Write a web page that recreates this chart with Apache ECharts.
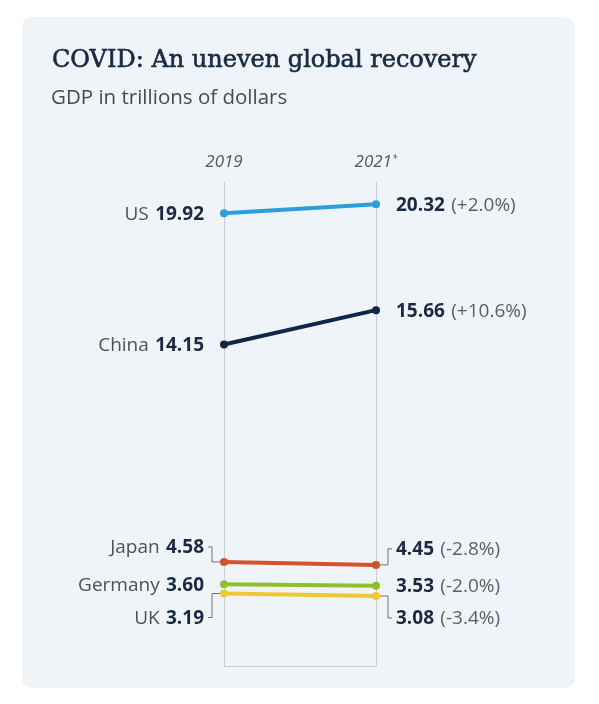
<!DOCTYPE html>
<html>
<head>
<meta charset="utf-8">
<script src="https://cdn.jsdelivr.net/npm/echarts@6/dist/echarts.min.js"></script>
<style>
  html, body { margin: 0; padding: 0; background: #ffffff; }
  #card {
    position: absolute; left: 22px; top: 17px; width: 553px; height: 671px;
    border-radius: 10px; background: #eef4f7;
  }
  #chart { position: absolute; left: 0; top: 0; width: 599px; height: 704px; }
</style>
</head>
<body>
<div id="card"></div>
<div id="chart"></div>
<script>
// GDP in trillions of dollars
const years = ['2019', '2021'];
const countries = ['US', 'China', 'Japan', 'Germany', 'UK'];
const gdp2019 = [19.92, 14.15, 4.58, 3.60, 3.19];
const gdp2021 = [20.32, 15.66, 4.45, 3.53, 3.08];
const changePct = ['+2.0', '+10.6', '-2.8', '-2.0', '-3.4'];

const colors = {
    US: '#2b9fd9',
    China: '#0e2747',
    Japan: '#d5512c',
    Germany: '#8fc02c',
    UK: '#efc932'
};

// vertical shift of labels that sit off their point (left, right), in px
const labelShift = {
    Japan: [-15, -16],
    UK: [24, 22]
};

const FONT = '"Open Sans", sans-serif';
const rich = {
    n: { fontFamily: FONT, fontSize: 19, color: '#4d5258', padding: [0, 3, 0, 0] },
    b: { fontFamily: FONT, fontSize: 19, fontWeight: 'bold', color: '#1b2a44' },
    bp: { fontFamily: FONT, fontSize: 19, fontWeight: 'bold', color: '#1b2a44', padding: [0, 3, 0, 0] },
    p: { fontFamily: FONT, fontSize: 19, color: '#5a5f66' }
};

const lineSeries = countries.map((c, i) => {
    const shift = labelShift[c] || [0, 0];
    return {
        name: c,
        type: 'line',
        xAxisIndex: 0,
        symbol: 'circle',
        symbolSize: 8,
        lineStyle: { width: 4, color: colors[c] },
        itemStyle: { color: colors[c] },
        z: 3,
        data: [
            {
                value: gdp2019[i],
                label: {
                    show: true, position: 'left', distance: 16,
                    offset: [0, shift[0] + 1],
                    formatter: '{n|' + c + '} {b|' + gdp2019[i].toFixed(2) + '}',
                    rich: rich
                }
            },
            {
                value: gdp2021[i],
                label: {
                    show: true, position: 'right', distance: 16,
                    offset: [0, shift[1] + 1],
                    formatter: '{bp|' + gdp2021[i].toFixed(2) + '} {p|(' + changePct[i] + '%)}',
                    rich: rich
                }
            }
        ]
    };
});

// leader brackets for the shifted labels
const bracketData = [];
Object.keys(labelShift).forEach(c => {
    const i = countries.indexOf(c);
    bracketData.push([0, gdp2019[i], labelShift[c][0], -1]);
    bracketData.push([1, gdp2021[i], labelShift[c][1], 1]);
});

const bracketSeries = {
    type: 'custom',
    xAxisIndex: 0,
    silent: true,
    z: 2,
    data: bracketData,
    renderItem: function (params, api) {
        const p = api.coord([api.value(0), api.value(1)]);
        const dy = api.value(2);
        const dir = api.value(3);
        return {
            type: 'polyline',
            shape: {
                points: [
                    [p[0] + dir * 4, p[1]],
                    [p[0] + dir * 12, p[1]],
                    [p[0] + dir * 12, p[1] + dy],
                    [p[0] + dir * 16, p[1] + dy]
                ]
            },
            style: { stroke: '#6d7278', lineWidth: 1, fill: null }
        };
    }
};

const chart = echarts.init(document.getElementById('chart'), null, { renderer: 'canvas' });

chart.setOption({
    backgroundColor: 'transparent',
    animation: false,
    title: [
        {
            text: 'COVID: An uneven global recovery',
            left: 47, top: 44,
            textStyle: {
                fontFamily: '"DejaVu Serif", serif', fontSize: 24, fontWeight: 'normal', color: '#172a45',
                textBorderColor: '#172a45', textBorderWidth: 0.6
            }
        },
        {
            text: 'GDP in trillions of dollars',
            left: 46, top: 83,
            textStyle: { fontFamily: FONT, fontSize: 20.5, fontWeight: 'normal', color: '#474b50' }
        }
    ],
    grid: { left: 224, right: 223, top: 182, bottom: 38, containLabel: false },
    xAxis: [
        {
            type: 'category',
            data: years,
            boundaryGap: false,
            position: 'bottom',
            axisLine: { show: true, lineStyle: { color: '#c9cfd3', width: 1 } },
            axisTick: { show: false },
            axisLabel: { show: false },
            splitLine: { show: true, lineStyle: { color: '#c9cfd3', width: 1 } }
        },
        {
            type: 'category',
            data: years,
            boundaryGap: false,
            position: 'top',
            axisLine: { show: false },
            axisTick: { show: false },
            splitLine: { show: false },
            axisLabel: {
                show: true, margin: 11,
                formatter: v => v === '2021' ? v + '{s|*}' : v,
                fontFamily: FONT, fontSize: 17, fontStyle: 'italic', color: '#54595f',
                rich: {
                    s: { fontFamily: FONT, fontSize: 10, fontStyle: 'italic', color: '#54595f', verticalAlign: 'top', padding: [0, 0, 7, 0] }
                }
            }
        }
    ],
    yAxis: {
        type: 'value',
        min: 0,
        max: 21.3,
        show: false
    },
    series: lineSeries.concat([bracketSeries])
});
</script>
</body>
</html>
